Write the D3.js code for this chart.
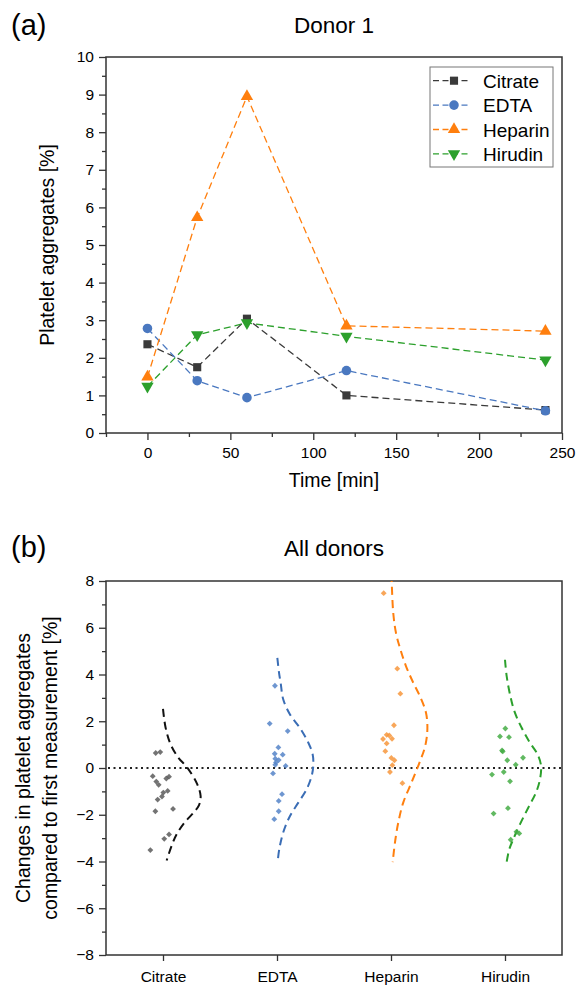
<!DOCTYPE html>
<html>
<head>
<meta charset="utf-8">
<script src="https://cdn.jsdelivr.net/npm/d3@7"></script>
<style>
  body { margin: 0; background: #fff; }
  text { font-family: "Liberation Sans", Arial, sans-serif; fill: #000; }
</style>
</head>
<body>
<div id="vis"></div>
<script>
// ---- panel (a) data: Donor 1 ----
const times = [0, 30, 60, 120, 240];
const citrate = [2.36, 1.75, 3.04, 1.0, 0.61];
const edta = [2.78, 1.39, 0.94, 1.66, 0.59];
const heparin = [1.49, 5.73, 8.95, 2.85, 2.71];
const hirudin = [1.24, 2.61, 2.93, 2.57, 1.94];
const seriesNames = ["Citrate", "EDTA", "Heparin", "Hirudin"];
const xTicksA = [0, 50, 100, 150, 200, 250];
const yTicksA = [0, 1, 2, 3, 4, 5, 6, 7, 8, 9, 10];

// ---- panel (b) data: all donors, change vs first measurement ----
const categories = ["Citrate", "EDTA", "Heparin", "Hirudin"];
const citrateChange = [0.64, 0.68, -0.35, -0.58, -0.72, -0.37, -0.45, -1.05, -0.98, -1.22, -1.35, -1.85, -1.75, -3.03, -2.84, -3.51];
const citrateJitter = [-0.064, -0.024, -0.09, -0.059, -0.038, 0.053, 0.029, 0.003, 0.041, -0.009, -0.047, -0.067, 0.088, 0.011, 0.053, -0.111];
const edtaChange = [3.52, 1.90, 1.58, 0.88, 0.61, 0.57, 0.40, 0.34, 0.24, 0.14, 0.09, -0.23, -1.12, -1.41, -1.85, -2.19];
const edtaJitter = [-0.018, -0.064, 0.094, 0.012, -0.02, 0.05, -0.015, 0.015, -0.009, -0.015, 0.076, -0.035, 0.044, 0.015, 0.015, -0.024];
const heparinChange = [7.48, 4.25, 3.18, 1.83, 1.42, 1.39, 1.24, 1.25, 1.05, 0.72, 0.43, 0.33, 0.12, -0.17, -0.65];
const heparinJitter = [-0.064, 0.055, 0.082, 0.026, -0.038, -0.015, -0.07, 0.009, -0.038, -0.05, 0.003, 0.03, 0.012, -0.009, 0.1];
const hirudinChange = [1.69, 1.35, 1.32, 0.75, 0.71, 0.44, 0.33, 0.14, -0.17, -0.28, -0.57, -1.72, -1.95, -2.80, -2.73, -3.07];
const hirudinJitter = [0.003, -0.044, 0.035, -0.026, -0.02, 0.158, 0.02, 0.094, -0.011, -0.114, 0.044, 0.026, -0.1, 0.125, 0.10, 0.05];
// distribution curves: [value, width in category units]
const citrateCurve = [[2.53, 0.0], [1.72, 0.023], [1.01, 0.067], [0.44, 0.135], [0.02, 0.213], [-0.69, 0.30], [-1.2, 0.33], [-1.6, 0.315], [-1.9, 0.27], [-2.33, 0.19], [-2.83, 0.12], [-3.32, 0.076], [-3.96, 0.032]];
const edtaCurve = [[4.71, 0.003], [4.07, 0.018], [3.64, 0.032], [2.93, 0.055], [2.29, 0.114], [1.72, 0.20], [1.08, 0.275], [0.58, 0.313], [0.09, 0.318], [-0.34, 0.304], [-0.91, 0.26], [-1.48, 0.187], [-2.05, 0.114], [-2.75, 0.055], [-3.47, 0.02], [-4.0, 0.006]];
const heparinCurve = [[8.3, 0.003], [7.97, 0.006], [6.62, 0.02], [5.77, 0.044], [5.13, 0.079], [4.35, 0.132], [3.64, 0.196], [3.0, 0.26], [2.36, 0.307], [1.65, 0.319], [0.94, 0.30], [0.23, 0.25], [-0.62, 0.18], [-1.47, 0.108], [-2.33, 0.064], [-3.18, 0.035], [-4.03, 0.015]];
const hirudinCurve = [[4.63, 0.0], [3.92, 0.015], [3.14, 0.044], [2.43, 0.082], [1.72, 0.146], [1.08, 0.219], [0.58, 0.286], [0.09, 0.316], [-0.48, 0.307], [-1.05, 0.272], [-1.69, 0.205], [-2.4, 0.132], [-3.04, 0.073], [-3.47, 0.038], [-4.01, 0.015]];
const yTicksB = [-8, -6, -4, -2, 0, 2, 4, 6, 8];

const COLORS = ["#3a3a3a", "#4a78c0", "#ff7f0e", "#2ca02c"];
const CURVE_COLORS = ["#111111", "#3a6db5", "#ff7f0e", "#2ca02c"];
const POINT_COLORS = ["#5a5a5a", "#5584c8", "#f7963c", "#45ad45"];

const WIDTH = 583, HEIGHT = 985;
const PLOT = {left: 106, right: 562};

const svg = d3.select("#vis").append("svg")
    .attr("width", WIDTH)
    .attr("height", HEIGHT);

// ================= panel (a) =================
const TOP_A = 57, BOT_A = 433;
const X_A = d3.scaleLinear().domain([-25, 250]).range([PLOT.left, PLOT.right]);
const Y_A = d3.scaleLinear().domain([0, 10]).range([BOT_A, TOP_A]);

function drawAxes(g, xAxis, xMinor, yAxis, yMinor, top, bot) {
  // minor ticks first
  if (xMinor) {
    g.append("g").attr("transform", "translate(0," + bot + ")").call(xMinor)
      .call(a => a.select(".domain").remove());
  }
  g.append("g").attr("transform", "translate(0," + bot + ")").call(xAxis)
    .call(a => a.select(".domain").remove());
  g.append("g").attr("transform", "translate(" + PLOT.left + ",0)").call(yMinor)
    .call(a => a.select(".domain").remove());
  g.append("g").attr("transform", "translate(" + PLOT.left + ",0)").call(yAxis)
    .call(a => a.select(".domain").remove());
  g.selectAll(".tick line").attr("stroke", "#333").attr("stroke-width", 1.3);
  g.selectAll(".tick text").attr("font-size", "15.5px").attr("fill", "#000")
    .style("font-family", "'Liberation Sans', Arial, sans-serif");
  // frame
  g.append("rect")
    .attr("x", PLOT.left).attr("y", top)
    .attr("width", PLOT.right - PLOT.left).attr("height", bot - top)
    .attr("fill", "none").attr("stroke", "#333").attr("stroke-width", 1.5);
}

const gA = svg.append("g");
drawAxes(gA,
  d3.axisBottom(X_A).tickValues(xTicksA).tickSize(7).tickPadding(7),
  d3.axisBottom(X_A).tickValues(d3.range(-25, 251, 50)).tickSize(4).tickFormat(""),
  d3.axisLeft(Y_A).tickValues(yTicksA).tickSize(7).tickPadding(5),
  d3.axisLeft(Y_A).tickValues(d3.range(0.5, 10, 1)).tickSize(4).tickFormat(""),
  TOP_A, BOT_A);

const symbolsA = [d3.symbolSquare, d3.symbolCircle, d3.symbolTriangle, d3.symbolTriangle];
const symbolSizes = [66, 72, 66, 66];
const seriesA = [citrate, edta, heparin, hirudin];

seriesA.forEach((vals, i) => {
  const pts = times.map((t, j) => [t, vals[j]]);
  gA.append("path")
    .datum(pts)
    .attr("fill", "none")
    .attr("stroke", COLORS[i])
    .attr("stroke-width", 1.3)
    .attr("stroke-dasharray", "7,4")
    .attr("d", d3.line().x(d => X_A(d[0])).y(d => Y_A(d[1])));
});
seriesA.forEach((vals, i) => {
  gA.selectAll(".m" + i)
    .data(times.map((t, j) => [t, vals[j]]))
    .enter().append("path")
      .attr("transform", d => "translate(" + X_A(d[0]) + "," + Y_A(d[1]) + ")" + (i === 3 ? " rotate(180)" : ""))
      .attr("d", d3.symbol().type(symbolsA[i]).size(symbolSizes[i]))
      .attr("fill", COLORS[i]);
});

// legend
const leg = gA.append("g");
leg.append("rect")
  .attr("x", 430).attr("y", 67).attr("width", 123).attr("height", 100)
  .attr("fill", "#fff").attr("stroke", "#777").attr("stroke-width", 1);
seriesNames.forEach((name, i) => {
  const y = 80.7 + i * 24.4;
  leg.append("line")
    .attr("x1", 432).attr("x2", 470).attr("y1", y).attr("y2", y)
    .attr("stroke", COLORS[i]).attr("stroke-width", 1.3)
    .attr("stroke-dasharray", "6,3.5").attr("stroke-dashoffset", -1);
  leg.append("path")
    .attr("transform", "translate(454," + y + ")" + (i === 3 ? " rotate(180)" : ""))
    .attr("d", d3.symbol().type(symbolsA[i]).size(symbolSizes[i]))
    .attr("fill", COLORS[i]);
  leg.append("text")
    .attr("x", 483).attr("y", y + 7)
    .attr("font-size", "19px")
    .text(name);
});

svg.append("text").attr("x", 11).attr("y", 35).attr("font-size", "29px").text("(a)");
svg.append("text").attr("x", 334).attr("y", 33).attr("text-anchor", "middle")
  .attr("font-size", "22.5px").text("Donor 1");
svg.append("text").attr("x", 334).attr("y", 487).attr("text-anchor", "middle")
  .attr("font-size", "19.5px").text("Time [min]");
svg.append("text")
  .attr("transform", "translate(54," + ((TOP_A + BOT_A) / 2) + ") rotate(-90)")
  .attr("text-anchor", "middle")
  .attr("font-size", "19.5px").text("Platelet aggregates [%]");

// ================= panel (b) =================
const TOP_B = 581, BOT_B = 955;
const X_B = d3.scaleLinear().domain([0.5, 4.5]).range([PLOT.left, PLOT.right]);
const Y_B = d3.scaleLinear().domain([-8, 8]).range([BOT_B, TOP_B]);

const gB = svg.append("g");
drawAxes(gB,
  d3.axisBottom(X_B).tickValues([1, 2, 3, 4]).tickSize(6).tickPadding(10)
    .tickFormat(d => categories[d - 1]),
  null,
  d3.axisLeft(Y_B).tickValues(yTicksB).tickSize(7).tickPadding(5),
  d3.axisLeft(Y_B).tickValues(d3.range(-7, 8, 2)).tickSize(4).tickFormat(""),
  TOP_B, BOT_B);

svg.append("clipPath").attr("id", "clipB")
  .append("rect").attr("x", PLOT.left).attr("y", TOP_B)
  .attr("width", PLOT.right - PLOT.left).attr("height", BOT_B - TOP_B);

// zero line
gB.append("line")
  .attr("x1", PLOT.left + 2).attr("x2", PLOT.right)
  .attr("y1", Y_B(0)).attr("y2", Y_B(0))
  .attr("stroke", "#222").attr("stroke-width", 2)
  .attr("stroke-dasharray", "2,3.5");

const changes = [citrateChange, edtaChange, heparinChange, hirudinChange];
const jitters = [citrateJitter, edtaJitter, heparinJitter, hirudinJitter];
const curves = [citrateCurve, edtaCurve, heparinCurve, hirudinCurve];

const plotB = gB.append("g").attr("clip-path", "url(#clipB)");

curves.forEach((c, i) => {
  plotB.append("path")
    .datum(c)
    .attr("fill", "none")
    .attr("stroke", CURVE_COLORS[i])
    .attr("stroke-width", 2)
    .attr("stroke-dasharray", "8,5")
    .attr("d", d3.line()
      .x(d => X_B(i + 1 + d[1]))
      .y(d => Y_B(d[0]))
      .curve(d3.curveCatmullRom));
});

changes.forEach((vals, i) => {
  plotB.selectAll(".p" + i)
    .data(vals.map((v, j) => [jitters[i][j], v]))
    .enter().append("path")
      .attr("transform", d => "translate(" + X_B(i + 1 + d[0]) + "," + Y_B(d[1]) + ") rotate(45)")
      .attr("d", d3.symbol().type(d3.symbolSquare).size(17))
      .attr("fill", POINT_COLORS[i])
      .attr("fill-opacity", 0.85);
});

svg.append("text").attr("x", 11).attr("y", 557).attr("font-size", "29px").text("(b)");
svg.append("text").attr("x", 334).attr("y", 556).attr("text-anchor", "middle")
  .attr("font-size", "22.5px").text("All donors");
svg.append("text")
  .attr("transform", "translate(30," + Y_B(0) + ") rotate(-90)")
  .attr("text-anchor", "middle")
  .attr("font-size", "19.5px").text("Changes in platelet aggregates");
svg.append("text")
  .attr("transform", "translate(57," + Y_B(0) + ") rotate(-90)")
  .attr("text-anchor", "middle")
  .attr("font-size", "19.5px").text("compared to first measurement [%]");
</script>
</body>
</html>
